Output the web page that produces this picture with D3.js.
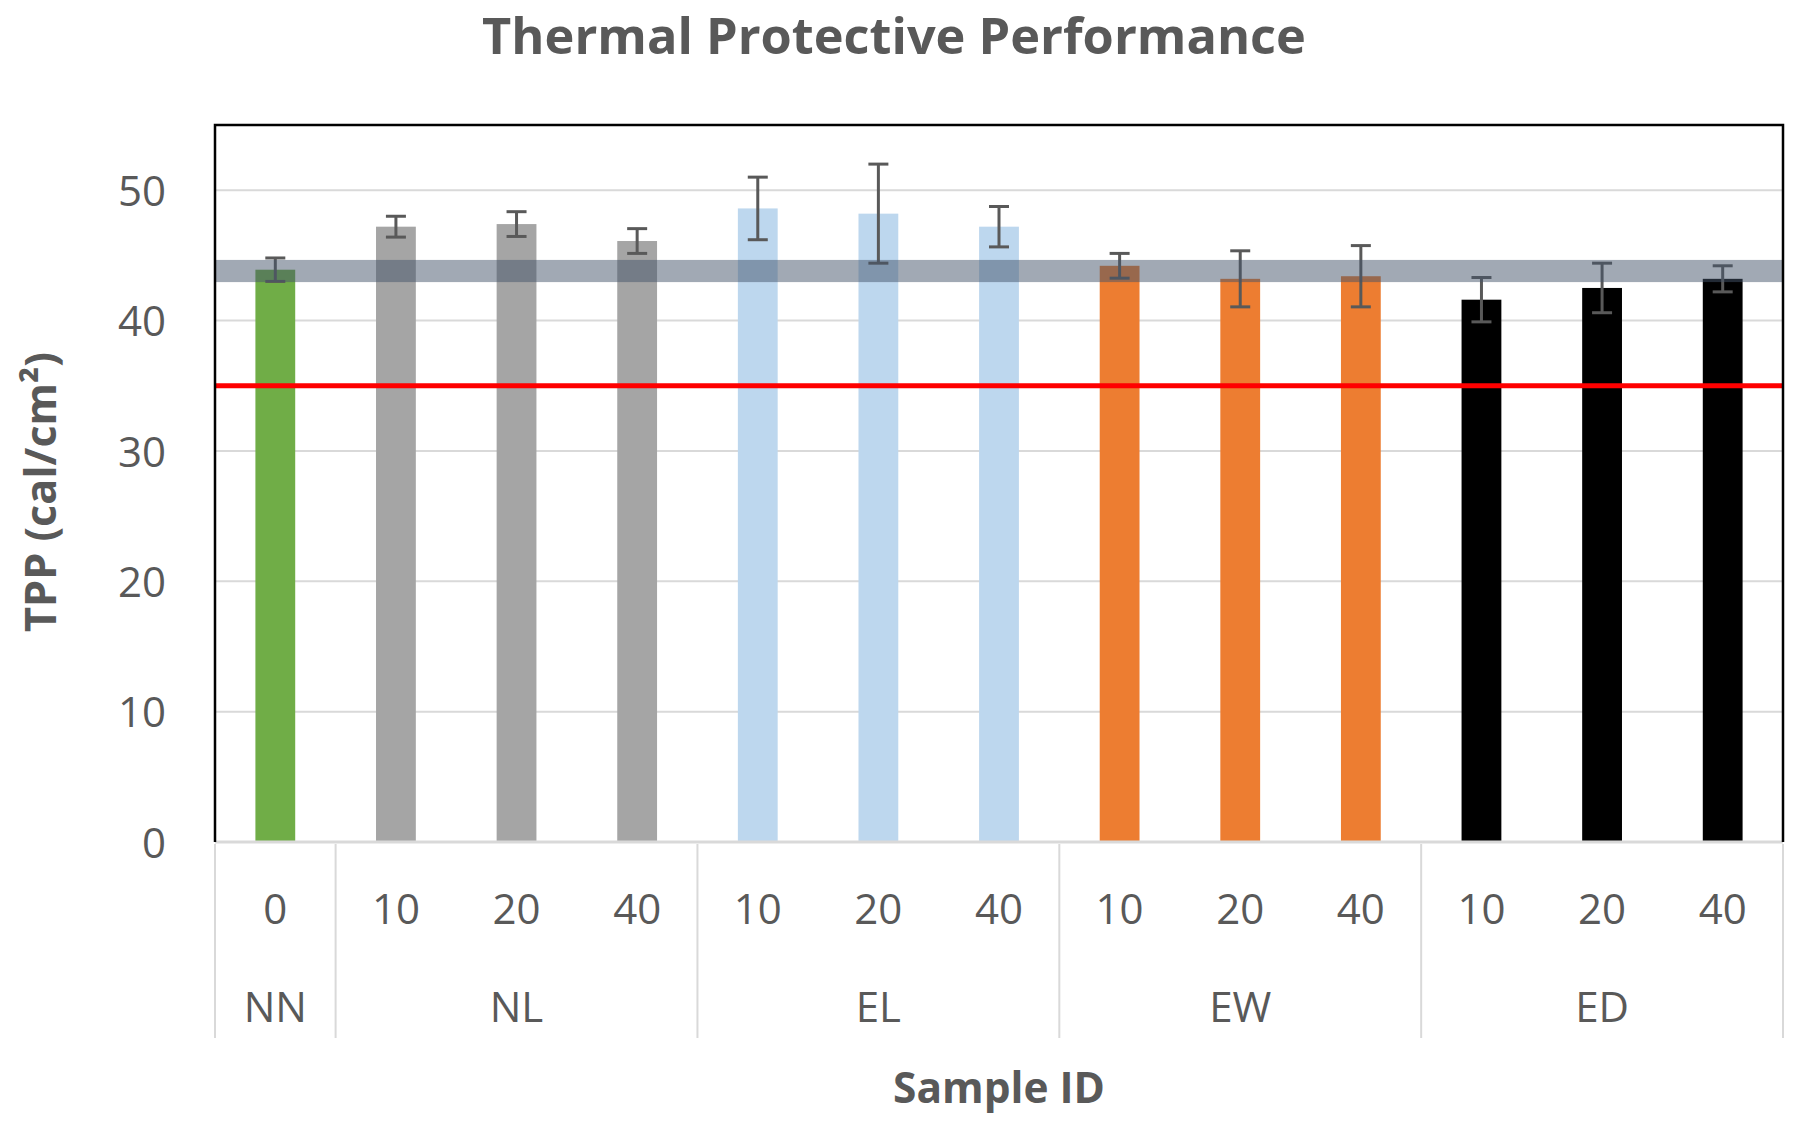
<!DOCTYPE html>
<html>
<head>
<meta charset="utf-8">
<script src="https://cdn.jsdelivr.net/npm/d3@7/dist/d3.min.js"></script>
<style>
  html, body { margin: 0; padding: 0; background: #ffffff; }
  svg { display: block; }
</style>
</head>
<body>
<svg id="chart" width="1800" height="1129"></svg>
<script>
// ---------- data ----------
const groups  = ["NN", "NL", "NL", "NL", "EL", "EL", "EL", "EW", "EW", "EW", "ED", "ED", "ED"];
const samples = ["0", "10", "20", "40", "10", "20", "40", "10", "20", "40", "10", "20", "40"];
const tpp     = [43.9, 47.2, 47.4, 46.1, 48.6, 48.2, 47.2, 44.2, 43.2, 43.4, 41.6, 42.5, 43.2];
const tppErr  = [0.9, 0.8, 0.95, 0.95, 2.4, 3.8, 1.55, 0.95, 2.15, 2.35, 1.7, 1.9, 1.0];
const groupNames  = ["NN", "NL", "EL", "EW", "ED"];
const groupColors = ["#70AD47", "#A5A5A5", "#BDD7EE", "#ED7D31", "#000000"];
const yTicks = [0, 10, 20, 30, 40, 50];
const yMax = 55;
const redLineValue = 35;
const bandLow = 42.95;
const bandHigh = 44.65;
const title = "Thermal Protective Performance";
const yTitle = "TPP (cal/cm²)";
const xTitle = "Sample ID";

(function () {
// ---------- layout ----------
const svg = d3.select("#chart");
const pl = 215, pr = 1783, pt = 125, pb = 842;
const textColor = "#595959";
const font = "'Open Sans', 'Liberation Sans', sans-serif";

const idx = d3.range(tpp.length);
const x = d3.scaleBand().domain(idx).range([pl, pr]).padding(0);
const y = d3.scaleLinear().domain([0, yMax]).range([pb, pt]);
const color = d3.scaleOrdinal().domain(groupNames).range(groupColors);
const barW = x.bandwidth() * 0.33;

// gridlines
svg.append("g").selectAll("line").data(yTicks.filter(t => t > 0)).join("line")
  .attr("x1", pl).attr("x2", pr)
  .attr("y1", d => y(d)).attr("y2", d => y(d))
  .attr("stroke", "#D9D9D9").attr("stroke-width", 2);

// y tick labels via axis
const yAxis = svg.append("g").attr("transform", `translate(${pl - 49},0)`)
  .call(d3.axisLeft(y).tickValues(yTicks).tickSize(0).tickPadding(0));
yAxis.select(".domain").remove();
yAxis.selectAll("text")
  .attr("fill", textColor).attr("font-family", font).attr("font-size", 42)
  .attr("dy", "0.36em");

// bars
svg.append("g").selectAll("rect").data(idx).join("rect")
  .attr("x", i => x(i) + (x.bandwidth() - barW) / 2)
  .attr("width", barW)
  .attr("y", i => y(tpp[i]))
  .attr("height", i => y(0) - y(tpp[i]))
  .attr("fill", i => color(groups[i]));

// error bars
const eb = svg.append("g").attr("stroke", "#595959").attr("stroke-width", 3);
const cx = i => x(i) + x.bandwidth() / 2;
eb.selectAll("line.v").data(idx).join("line").attr("class", "v")
  .attr("x1", cx).attr("x2", cx)
  .attr("y1", i => y(tpp[i] + tppErr[i])).attr("y2", i => y(tpp[i] - tppErr[i]));
eb.selectAll("line.t").data(idx).join("line").attr("class", "t")
  .attr("x1", i => cx(i) - 10).attr("x2", i => cx(i) + 10)
  .attr("y1", i => y(tpp[i] + tppErr[i])).attr("y2", i => y(tpp[i] + tppErr[i]));
eb.selectAll("line.b").data(idx).join("line").attr("class", "b")
  .attr("x1", i => cx(i) - 10).attr("x2", i => cx(i) + 10)
  .attr("y1", i => y(tpp[i] - tppErr[i])).attr("y2", i => y(tpp[i] - tppErr[i]));

// reference band
svg.append("rect")
  .attr("x", pl).attr("width", pr - pl)
  .attr("y", y(bandHigh)).attr("height", y(bandLow) - y(bandHigh))
  .attr("fill", "#44546A").attr("fill-opacity", 0.5);

// red threshold line
svg.append("line")
  .attr("x1", pl).attr("x2", pr)
  .attr("y1", y(redLineValue)).attr("y2", y(redLineValue))
  .attr("stroke", "#FF0000").attr("stroke-width", 5);

// x axis line
svg.append("line").attr("x1", pl).attr("x2", pr)
  .attr("y1", pb).attr("y2", pb)
  .attr("stroke", "#D9D9D9").attr("stroke-width", 3);

// plot border (left, top, right)
svg.append("path")
  .attr("d", `M${pl},${pb} V${pt} H${pr} V${pb}`)
  .attr("fill", "none").attr("stroke", "#000").attr("stroke-width", 2.5);

// sample labels
svg.append("g").selectAll("text").data(idx).join("text")
  .attr("x", cx).attr("y", 909).attr("dy", "0.36em")
  .attr("text-anchor", "middle")
  .attr("fill", textColor).attr("font-family", font).attr("font-size", 42)
  .text(i => samples[i]);

// group spans
const spans = groupNames.map(g => {
  const members = idx.filter(i => groups[i] === g);
  return { g, start: x(members[0]), end: x(members[members.length - 1]) + x.bandwidth() };
});
const sepX = [pl, ...spans.map(s => s.end)];
svg.append("g").selectAll("line").data(sepX).join("line")
  .attr("x1", d => d).attr("x2", d => d)
  .attr("y1", pb + 2).attr("y2", 1038)
  .attr("stroke", "#D9D9D9").attr("stroke-width", 2);
svg.append("g").selectAll("text").data(spans).join("text")
  .attr("x", s => (s.start + s.end) / 2).attr("y", 1007).attr("dy", "0.36em")
  .attr("text-anchor", "middle")
  .attr("fill", textColor).attr("font-family", font).attr("font-size", 42)
  .text(s => s.g);

// fit helper
function fit(sel, target) {
  sel.attr("font-size", 100);
  const w = sel.node().getComputedTextLength();
  sel.attr("font-size", 100 * target / w);
}

// titles
const t = svg.append("text").attr("x", 894).attr("y", 36).attr("dy", "0.36em")
  .attr("text-anchor", "middle").attr("fill", textColor)
  .attr("font-family", font).attr("font-weight", "bold").text(title);
fit(t, 824);

const yt = svg.append("text")
  .attr("transform", `translate(40,492) rotate(-90)`)
  .attr("dy", "0.36em")
  .attr("text-anchor", "middle").attr("fill", textColor)
  .attr("font-family", font).attr("font-weight", "bold").text(yTitle);
fit(yt, 280);

const xt = svg.append("text").attr("x", 999).attr("y", 1088).attr("dy", "0.36em")
  .attr("text-anchor", "middle").attr("fill", textColor)
  .attr("font-family", font).attr("font-weight", "bold").text(xTitle);
fit(xt, 212);
})();
</script>
</body>
</html>
